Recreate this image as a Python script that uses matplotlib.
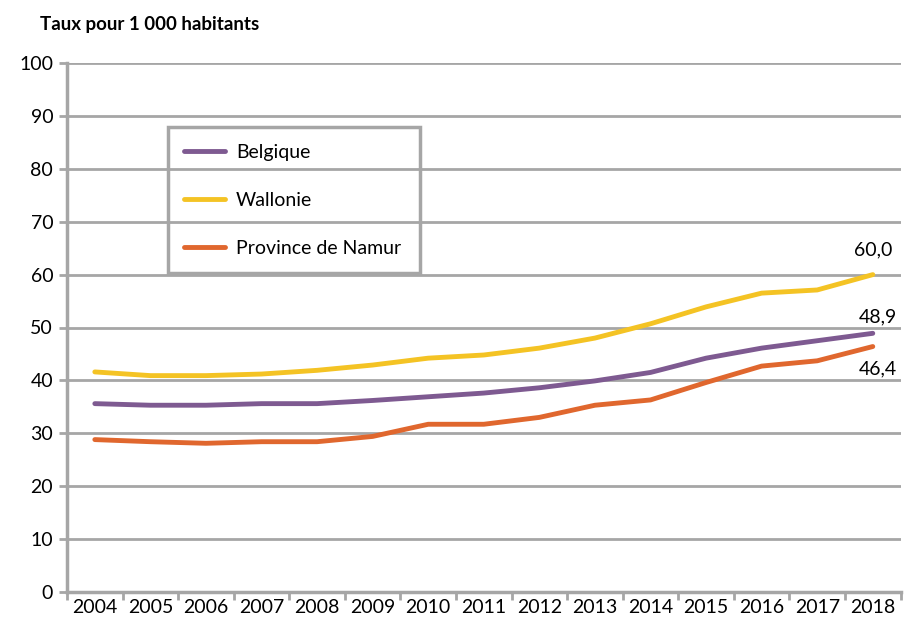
import numpy as np
import matplotlib.pyplot as plt

years = [2004, 2005, 2006, 2007, 2008, 2009, 2010, 2011, 2012, 2013, 2014, 2015, 2016, 2017, 2018]
belgique = [35.6, 35.3, 35.3, 35.6, 35.6, 36.2, 36.9, 37.6, 38.6, 39.9, 41.5, 44.2, 46.1, 47.5, 48.9]
wallonie = [41.6, 40.9, 40.9, 41.2, 41.9, 42.9, 44.2, 44.8, 46.1, 48.0, 50.7, 53.9, 56.5, 57.1, 60.0]
namur = [28.8, 28.4, 28.1, 28.4, 28.4, 29.4, 31.7, 31.7, 33.0, 35.3, 36.3, 39.6, 42.7, 43.7, 46.4]

plt.rcParams['font.family'] = ['Lato', 'DejaVu Sans']

grid_col = "#A6A6A6"
fs = 14
fig = plt.figure(figsize=(9.06, 6.25), dpi=100)
ax = fig.add_axes([0.074, 0.053, 0.92, 0.846])

x = np.arange(len(years))
ax.plot(x, belgique, color="#7E5A91", lw=3.5, label="Belgique", solid_capstyle="round")
ax.plot(x, wallonie, color="#F4C324", lw=3.5, label="Wallonie", solid_capstyle="round")
ax.plot(x, namur, color="#E0672E", lw=3.5, label="Province de Namur", solid_capstyle="round")

ax.set_ylim(0, 100)
ax.set_xlim(-0.5, len(years) - 0.5)
ax.set_yticks(range(0, 101, 10))
ax.yaxis.grid(True, color=grid_col, lw=2)
ax.set_axisbelow(True)

ax.set_xticks(x)
ax.set_xticklabels([str(y) for y in years])
ax.set_xticks(np.arange(-0.5, len(years), 1), minor=True)
ax.tick_params(axis="x", which="major", length=0, labelsize=fs, pad=5)
ax.tick_params(axis="x", which="minor", length=6, width=2, color=grid_col)
ax.tick_params(axis="y", length=6, width=2, color=grid_col, labelsize=fs, pad=4)

for side in ["top", "right"]:
    ax.spines[side].set_visible(False)
for side in ["left", "bottom"]:
    ax.spines[side].set_color(grid_col)
    ax.spines[side].set_linewidth(2.5)

ax.annotate("60,0", (x[-1], wallonie[-1]), xytext=(0, 12), textcoords="offset points",
            ha="center", va="bottom", fontsize=fs)
ax.annotate("48,9", (x[-1], belgique[-1]), xytext=(4, 6), textcoords="offset points",
            ha="center", va="bottom", fontsize=fs)
ax.annotate("46,4", (x[-1], namur[-1]), xytext=(4, -10), textcoords="offset points",
            ha="center", va="top", fontsize=fs)

leg = ax.legend(loc="upper left", bbox_to_anchor=(0.121, 0.605, 0.303, 0.274),
                mode="expand", borderaxespad=0, fontsize=fs, handlelength=2.1,
                handletextpad=0.55, labelspacing=1.6, borderpad=0.85, fancybox=False,
                framealpha=1, facecolor="none")
leg.get_frame().set_edgecolor(grid_col)
leg.get_frame().set_linewidth(2.5)

fig.text(0.044, 0.952, "Taux pour 1 000 habitants", fontsize=13.5, fontweight="bold")

fig.savefig("out.png", dpi=100)
